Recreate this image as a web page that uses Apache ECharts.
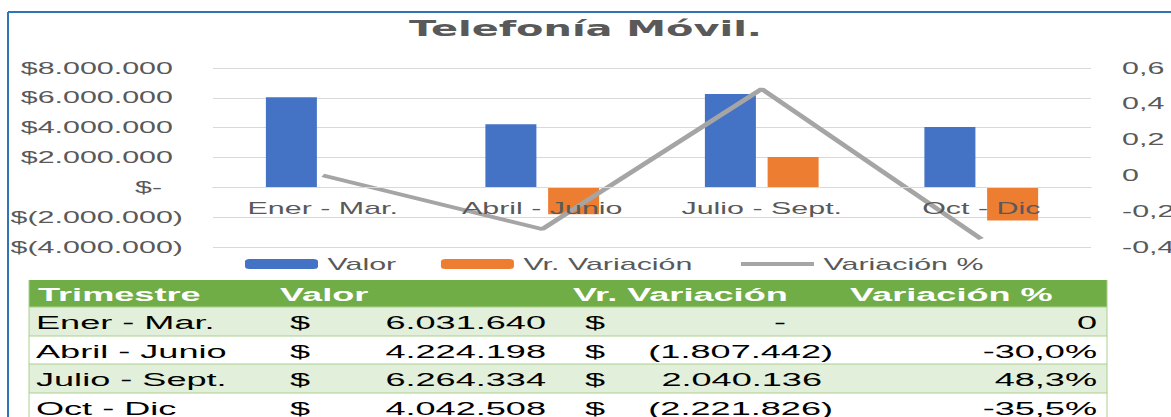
<!DOCTYPE html>
<html>
<head>
<meta charset="utf-8">
<title>Telefonía Móvil</title>
<script src="https://cdn.jsdelivr.net/npm/echarts@6/dist/echarts.min.js"></script>
<style>
  html, body { margin: 0; padding: 0; background: #fff; overflow: hidden; }
  #wrap { width: 1171px; height: 417px; overflow: hidden; }
  /* the original picture is stretched sideways, so the chart is drawn narrow and widened */
  #chart { width: 616px; height: 417px; transform: scaleX(1.901); transform-origin: 0 0; }
</style>
</head>
<body>
<div id="wrap"><div id="chart"></div></div>
<script>
const categories = ['Ener - Mar.', 'Abril - Junio', 'Julio - Sept.', 'Oct - Dic']
const valor = [6031640, 4224198, 6264334, 4042508]
const variacion = [0, -1807442, 2040136, -2221826]
const variacionPct = [0, -0.300, 0.483, -0.355]
const headers = ['Trimestre', 'Valor', 'Vr. Variación', 'Variación %']

const yMin = -4000000, yMax = 8000000, yStep = 2000000
const pMin = -0.4, pMax = 0.6, pStep = 0.2

const SX = 1171 / 616
const X = px => px / SX // reference pixel -> chart pixel
const font = "'Liberation Sans', Arial, sans-serif"
const gray = '#595959'
const gridTop = 68, gridBottom = 247

function miles(n) {
  return Math.abs(Math.round(n)).toString().replace(/\B(?=(\d{3})+(?!\d))/g, '.')
}
function pesos(n) {
  if (n === 0) return '-'
  return n < 0 ? '(' + miles(n) + ')' : miles(n)
}
function pct(p) {
  if (p === 0) return '0'
  return (p * 100).toFixed(1).replace('.', ',') + '%'
}

// tabla debajo del grafico
function buildTable() {
  const els = []
  const left = X(29), right = X(1107)
  const rowsY = [307, 336, 364, 393, 421]
  els.push({ type: 'rect', shape: { x: left, y: 280, width: right - left, height: 27 }, style: { fill: '#70AD47' } })
  const hx = [38, 280, 573, 850]
  headers.forEach((h, i) => {
    els.push({ type: 'text', style: { text: h, x: X(hx[i]), y: 294.5, textVerticalAlign: 'middle',
      fill: '#fff', fontFamily: font, fontWeight: 'bold', fontSize: 19 } })
  })
  categories.forEach((c, i) => {
    const y0 = rowsY[i], y1 = rowsY[i + 1], cy = (y0 + y1) / 2 + 1
    els.push({ type: 'rect', shape: { x: left, y: y0, width: right - left, height: y1 - y0 },
      style: { fill: i % 2 === 0 ? '#E2EFDA' : '#FFFFFF' } })
    els.push({ type: 'line', shape: { x1: left, y1: y0, x2: right, y2: y0 }, style: { stroke: '#A9D08E', lineWidth: 1 } })
    const txt = (text, x, align) => ({ type: 'text', z: 10, style: { text, x, y: cy, textAlign: align,
      textVerticalAlign: 'middle', fill: '#000', fontFamily: font, fontSize: 19 } })
    els.push(txt(c, X(36), 'left'))
    els.push(txt('$', X(290), 'left'))
    els.push(txt(miles(valor[i]), X(546), 'right'))
    els.push(txt('$', X(585), 'left'))
    const v = variacion[i]
    if (v === 0) els.push(txt(pesos(v), X(780), 'center'))
    else els.push(txt(pesos(v), v < 0 ? X(833) : X(822), 'right'))
    els.push(txt(pct(variacionPct[i]), X(1097), 'right'))
  })
  els.push({ type: 'line', shape: { x1: left, y1: 280, x2: left, y2: 421 }, style: { stroke: '#A9D08E', lineWidth: 1 / SX } })
  els.push({ type: 'line', shape: { x1: right, y1: 280, x2: right, y2: 421 }, style: { stroke: '#A9D08E', lineWidth: 1 / SX } })
  return els
}

// category labels sit on the zero line, like in Excel
const zeroOffset = -(0 - yMin) / (yMax - yMin) * (gridBottom - gridTop)

const chart = echarts.init(document.getElementById('chart'), null, { renderer: 'svg' })

const option = {
  animation: false,
  backgroundColor: '#fff',
  title: {
    text: 'Telefonía Móvil.',
    left: 'center',
    top: 18,
    padding: 0,
    textStyle: { fontFamily: "'DejaVu Sans', sans-serif", fontWeight: 'bold', fontSize: 21, color: gray }
  },
  legend: {
    left: X(245),
    top: 256,
    padding: 0,
    itemWidth: X(73),
    itemHeight: 10,
    itemGap: 23.5,
    textStyle: { fontFamily: font, fontSize: 16, color: gray },
    data: ['Valor', 'Vr. Variación', { name: 'Variación %', itemStyle: { opacity: 0 }, lineStyle: { width: 4 } }]
  },
  grid: { left: X(213), right: 616 - X(1091), top: gridTop, bottom: 417 - gridBottom, outerBoundsMode: 'none' },
  xAxis: {
    type: 'category',
    data: categories,
    z: 5,
    offset: zeroOffset,
    axisTick: { show: false },
    axisLine: { onZero: false, lineStyle: { color: '#D9D9D9' } },
    axisLabel: { margin: 13, fontFamily: font, fontSize: 16, color: gray, interval: 0 }
  },
  yAxis: [
    {
      type: 'value',
      min: yMin,
      max: yMax,
      interval: yStep,
      axisLine: { show: false },
      axisTick: { show: false },
      splitLine: { lineStyle: { color: '#D9D9D9' } },
      axisLabel: {
        margin: X(213) - X(183),
        formatter: v => v === 0 ? '{z|$-}' : v < 0 ? '{n|$(' + miles(v) + ')}' : '{p|$' + miles(v) + '}',
        rich: {
          z: { fontFamily: font, fontSize: 16, color: gray, padding: [0, 11, 0, 0] },
          n: { fontFamily: font, fontSize: 16, color: gray },
          p: { fontFamily: font, fontSize: 16, color: gray, padding: [0, 5.3, 0, 0] }
        }
      }
    },
    {
      type: 'value',
      min: pMin,
      max: pMax,
      interval: pStep,
      axisLine: { show: false },
      axisTick: { show: false },
      splitLine: { show: false },
      axisLabel: {
        margin: X(1122) - X(1091),
        fontFamily: font, fontSize: 16, color: gray,
        formatter: v => Math.abs(v) < 1e-9 ? '0' : v.toFixed(1).replace('.', ',')
      }
    }
  ],
  series: [
    {
      name: 'Valor',
      type: 'bar',
      data: valor,
      barWidth: X(51),
      barGap: '23%',
      itemStyle: { color: '#4472C4' }
    },
    {
      name: 'Vr. Variación',
      type: 'bar',
      data: variacion,
      barWidth: X(51),
      itemStyle: { color: '#ED7D31' }
    },
    {
      name: 'Variación %',
      type: 'line',
      yAxisIndex: 1,
      data: variacionPct,
      symbol: 'none',
      z: 4,
      lineStyle: { color: '#A5A5A5', width: 3.5 },
      itemStyle: { color: '#A5A5A5' }
    }
  ],
  graphic: [
    // marco azul del grafico
    { type: 'line', shape: { x1: X(8), y1: 12, x2: 616, y2: 12 }, style: { stroke: '#2E75B6', lineWidth: 2 } },
    { type: 'line', shape: { x1: X(8), y1: 12, x2: X(8), y2: 417 }, style: { stroke: '#2E75B6', lineWidth: 2 / SX } },
    ...buildTable()
  ]
}

chart.setOption(option)
</script>
</body>
</html>
